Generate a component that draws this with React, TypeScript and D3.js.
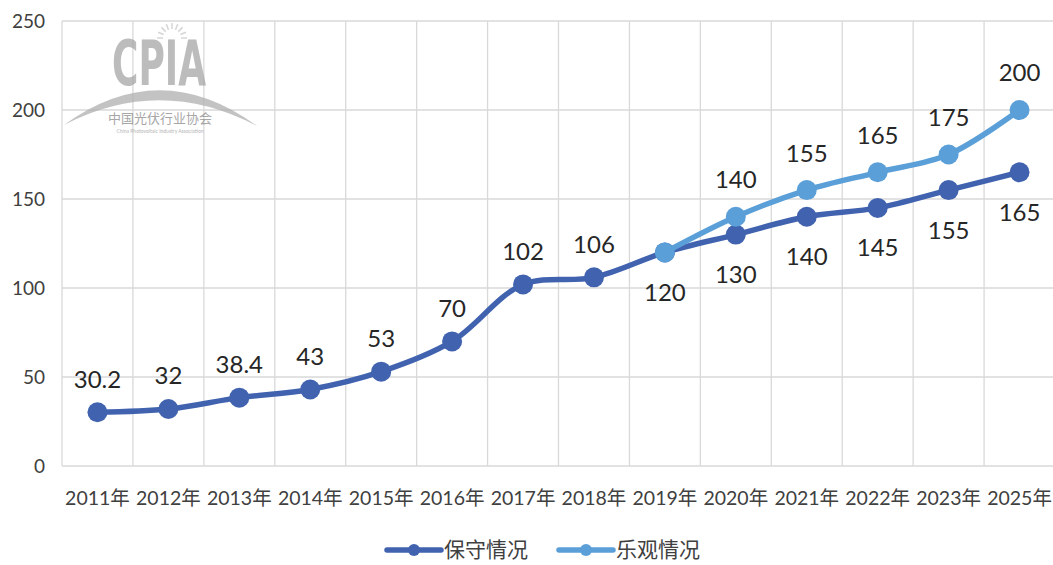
import React, { useEffect, useRef } from 'react';
import * as d3 from 'd3';

const categories = [
  '2011年', '2012年', '2013年', '2014年', '2015年', '2016年', '2017年',
  '2018年', '2019年', '2020年', '2021年', '2022年', '2023年', '2025年',
];
const conservative = [30.2, 32, 38.4, 43, 53, 70, 102, 106, 120, 130, 140, 145, 155, 165];
const optimisticYears = ['2019年', '2020年', '2021年', '2022年', '2023年', '2025年'];
const optimistic = [120, 140, 155, 165, 175, 200];
const yTicks = [0, 50, 100, 150, 200, 250];
const seriesNames = ['保守情况', '乐观情况'];

const DARK = '#4163af';
const LIGHT = '#5b9fd8';
const FONT = "Lato, 'Noto Sans CJK SC', sans-serif";

const App: React.FC = () => {
  const svgRef = useRef<SVGSVGElement>(null);

  useEffect(() => {
    if (!svgRef.current) return;
    const svg = d3.select(svgRef.current);
    svg.selectAll('*').remove();

    const W = 1053;
    const H = 565;
    const left = 62;
    const right = 1055;
    const top = 21;
    const bottom = 466;

    const x = d3.scaleBand<string>().domain(categories).range([left, right]);
    const y = d3.scaleLinear().domain([0, 250]).range([bottom, top]);
    const cx = (c: string) => (x(c) || 0) + x.bandwidth() / 2;

    svg.attr('width', W).attr('height', H);

    // gridlines
    const grid = svg.append('g').attr('stroke', '#d9d9d9').attr('stroke-width', 1.3);
    yTicks.forEach(t => {
      grid.append('line').attr('x1', left).attr('x2', right).attr('y1', y(t)).attr('y2', y(t));
    });
    categories.forEach(c => {
      const bx = x(c) || 0;
      grid.append('line').attr('x1', bx).attr('x2', bx).attr('y1', top).attr('y2', bottom);
    });

    // watermark
    const wm = svg.append('g').attr('opacity', 0.75);
    const rays = wm.append('g').attr('stroke', '#c8c8c8').attr('stroke-width', 1.5);
    d3.range(0, 9).forEach(i => {
      const a = Math.PI + (Math.PI * i) / 8;
      rays.append('line')
        .attr('x1', 172 + Math.cos(a) * 9).attr('y1', 38 + Math.sin(a) * 9)
        .attr('x2', 172 + Math.cos(a) * 15).attr('y2', 38 + Math.sin(a) * 15);
    });
    wm.append('text')
      .attr('x', 112).attr('y', 85)
      .attr('textLength', 94).attr('lengthAdjust', 'spacingAndGlyphs')
      .style('font-family', "'DejaVu Sans Condensed', 'DejaVu Sans', sans-serif")
      .style('font-weight', 'bold').style('font-size', '62px').style('fill', '#a6a6a6')
      .text('CPIA');
    wm.append('path')
      .attr('d', 'M64,125 Q160,55 257,126 Q160,75 64,125 Z')
      .attr('fill', '#b0b0b0');
    wm.append('text')
      .attr('x', 160).attr('y', 123).attr('text-anchor', 'middle')
      .style('font-family', "'Noto Sans CJK SC', sans-serif").style('font-size', '13px').style('fill', '#8a8a8a')
      .text('中国光伏行业协会');
    wm.append('text')
      .attr('x', 160).attr('y', 133).attr('text-anchor', 'middle')
      .style('font-family', FONT).style('font-size', '5px').style('fill', '#9a9a9a')
      .text('China Photovoltaic Industry Association');

    // y tick labels
    svg.append('g').selectAll('text').data(yTicks).enter().append('text')
      .attr('x', 45).attr('y', d => y(d)).attr('dy', '0.35em')
      .attr('text-anchor', 'end')
      .style('font-family', FONT).style('font-size', '19px').style('fill', '#404040')
      .text(d => d);

    // x tick labels
    svg.append('g').selectAll('text').data(categories).enter().append('text')
      .attr('x', d => cx(d)).attr('y', 498).attr('dy', '0.35em')
      .attr('text-anchor', 'middle')
      .style('font-family', FONT).style('font-size', '19.5px').style('fill', '#404040')
      .text(d => d);

    const line = d3.line<[number, number]>()
      .x(d => d[0]).y(d => d[1])
      .curve(d3.curveCatmullRom.alpha(0.5));

    const consPts: [number, number][] = categories.map((c, i) => [cx(c), y(conservative[i])]);
    const optPts: [number, number][] = optimisticYears.map((c, i) => [cx(c), y(optimistic[i])]);

    const drawSeries = (pts: [number, number][], color: string) => {
      svg.append('path')
        .attr('d', line(pts) || '')
        .attr('fill', 'none').attr('stroke', color)
        .attr('stroke-width', 5.5).attr('stroke-linejoin', 'round').attr('stroke-linecap', 'round');
      svg.append('g').selectAll('circle').data(pts).enter().append('circle')
        .attr('cx', d => d[0]).attr('cy', d => d[1]).attr('r', 10)
        .attr('fill', color);
    };
    drawSeries(consPts, DARK);
    drawSeries(optPts, LIGHT);

    // data labels
    const labels = svg.append('g')
      .style('font-family', FONT).style('font-size', '24px').style('fill', '#262626')
      .attr('text-anchor', 'middle');
    categories.forEach((c, i) => {
      const below = optimisticYears.includes(c);
      labels.append('text')
        .attr('x', cx(c))
        .attr('y', y(conservative[i]) + (below ? 40 : -33))
        .attr('dy', '0.35em')
        .text(conservative[i]);
    });
    optimisticYears.forEach((c, i) => {
      const ci = categories.indexOf(c);
      if (optimistic[i] === conservative[ci]) return;
      labels.append('text')
        .attr('x', cx(c))
        .attr('y', y(optimistic[i]) - 37)
        .attr('dy', '0.35em')
        .text(optimistic[i]);
    });

    // legend
    const legend = svg.append('g').attr('transform', 'translate(0, 550)');
    const items = [
      { name: seriesNames[0], color: DARK, x0: 387 },
      { name: seriesNames[1], color: LIGHT, x0: 559 },
    ];
    items.forEach(it => {
      legend.append('line')
        .attr('x1', it.x0).attr('x2', it.x0 + 54).attr('y1', 0).attr('y2', 0)
        .attr('stroke', it.color).attr('stroke-width', 5.5).attr('stroke-linecap', 'round');
      legend.append('circle').attr('cx', it.x0 + 27).attr('cy', 0).attr('r', 6).attr('fill', it.color);
      legend.append('text')
        .attr('x', it.x0 + 57).attr('y', 0).attr('dy', '0.35em')
        .style('font-family', "'Noto Sans CJK SC', sans-serif").style('font-size', '21px').style('fill', '#404040')
        .text(it.name);
    });
  }, []);

  return (
    <svg ref={svgRef} style={{ position: 'absolute', left: 0, top: 0, background: '#fff' }}></svg>
  );
};

export default App;
